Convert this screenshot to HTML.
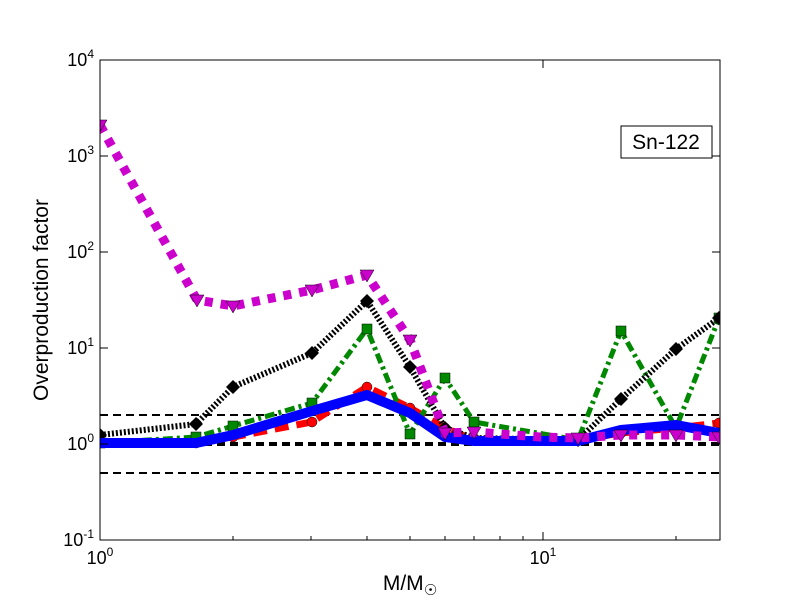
<!DOCTYPE html>
<html><head><meta charset="utf-8"><style>body{margin:0;background:#fff}svg{display:block}</style></head><body>
<svg width="800" height="600" xmlns="http://www.w3.org/2000/svg" font-family="Liberation Sans, DejaVu Sans, sans-serif">
<rect width="800" height="600" fill="#fff"/>
<defs><clipPath id="c"><rect x="100" y="60" width="620" height="480"/></clipPath></defs>
<g clip-path="url(#c)">
<line x1="100" y1="415" x2="720" y2="415" stroke="#000" stroke-width="2" stroke-dasharray="8,5"/>
<line x1="100" y1="444" x2="720" y2="444" stroke="#000" stroke-width="4" stroke-dasharray="8,5"/>
<line x1="100" y1="473" x2="720" y2="473" stroke="#000" stroke-width="2" stroke-dasharray="8,5"/>
<polyline fill="none" stroke="#f00" stroke-width="7" stroke-dasharray="14,8" points="100,443 196,443 233,437 312,422 367,387 410,408 445,428 474,440 578,440 621,433 676,428 719,423"/>
<g fill="#f00" stroke="#000" stroke-width="0.5"><circle cx="100" cy="443" r="5"/><circle cx="196" cy="443" r="5"/><circle cx="233" cy="437" r="5"/><circle cx="312" cy="422" r="5"/><circle cx="367" cy="387" r="5"/><circle cx="410" cy="408" r="5"/><circle cx="445" cy="428" r="5"/><circle cx="474" cy="440" r="5"/><circle cx="578" cy="440" r="5"/><circle cx="621" cy="433" r="5"/><circle cx="676" cy="428" r="5"/><circle cx="719" cy="423" r="5"/></g>
<polyline fill="none" stroke="#080" stroke-width="5" stroke-dasharray="10,4,3,4" points="100,443 196,437 233,426 312,403 367,329 410,434 445,378 474,422 578,440 621,331 676,428 719,318"/>
<g fill="#080" stroke="#000" stroke-width="0.5"><rect x="95" y="438" width="10" height="10"/><rect x="191" y="432" width="10" height="10"/><rect x="228" y="421" width="10" height="10"/><rect x="307" y="398" width="10" height="10"/><rect x="362" y="324" width="10" height="10"/><rect x="405" y="429" width="10" height="10"/><rect x="440" y="373" width="10" height="10"/><rect x="469" y="417" width="10" height="10"/><rect x="573" y="435" width="10" height="10"/><rect x="616" y="326" width="10" height="10"/><rect x="671" y="423" width="10" height="10"/><rect x="714" y="313" width="10" height="10"/></g>
<polyline fill="none" stroke="#000" stroke-width="6" stroke-dasharray="2,2" points="100,435 196,424 233,387 312,353 367,301 410,367 445,428 474,438 578,440 621,399 676,349 719,318"/>
<g fill="#000"><path d="M100,428l7,7-7,7-7-7z"/><path d="M196,417l7,7-7,7-7-7z"/><path d="M233,380l7,7-7,7-7-7z"/><path d="M312,346l7,7-7,7-7-7z"/><path d="M367,294l7,7-7,7-7-7z"/><path d="M410,360l7,7-7,7-7-7z"/><path d="M445,421l7,7-7,7-7-7z"/><path d="M474,431l7,7-7,7-7-7z"/><path d="M578,433l7,7-7,7-7-7z"/><path d="M621,392l7,7-7,7-7-7z"/><path d="M676,342l7,7-7,7-7-7z"/><path d="M719,311l7,7-7,7-7-7z"/></g>
<polyline fill="none" stroke="#00f" stroke-width="10" points="100,443 196,443 233,435 312,411 367,395 410,413 445,437 474,441 578,441 621,430 676,425 719,433"/>
<polyline fill="none" stroke="#c0c" stroke-width="9" stroke-dasharray="8,8" points="100,125 197,300 233,306 312,290 367,275 410,340 445,433 474,432 540,437 578,438 621,435 676,435 719,437"/>
<g fill="#c0c" stroke="#000" stroke-width="0.5"><path d="M93,120h14l-7,12z"/><path d="M190,295h14l-7,12z"/><path d="M226,301h14l-7,12z"/><path d="M305,285h14l-7,12z"/><path d="M360,270h14l-7,12z"/><path d="M403,335h14l-7,12z"/><path d="M438,428h14l-7,12z"/><path d="M467,427h14l-7,12z"/><path d="M571,433h14l-7,12z"/><path d="M614,430h14l-7,12z"/><path d="M669,430h14l-7,12z"/><path d="M712,432h14l-7,12z"/></g>
</g>
<rect x="100" y="60" width="620" height="480" fill="none" stroke="#000" stroke-width="1"/>
<g stroke="#000">
<line x1="100" y1="540" x2="100" y2="532"/><line x1="543" y1="540" x2="543" y2="532"/><line x1="100" y1="60" x2="100" y2="68"/><line x1="543" y1="60" x2="543" y2="68"/>
<line x1="233" y1="540" x2="233" y2="536"/><line x1="311" y1="540" x2="311" y2="536"/><line x1="367" y1="540" x2="367" y2="536"/><line x1="410" y1="540" x2="410" y2="536"/><line x1="445" y1="540" x2="445" y2="536"/><line x1="474" y1="540" x2="474" y2="536"/><line x1="500" y1="540" x2="500" y2="536"/><line x1="523" y1="540" x2="523" y2="536"/><line x1="676" y1="540" x2="676" y2="536"/>
<line x1="100" y1="444" x2="108" y2="444"/><line x1="100" y1="348" x2="108" y2="348"/><line x1="100" y1="252" x2="108" y2="252"/><line x1="100" y1="156" x2="108" y2="156"/>
<line x1="720" y1="444" x2="712" y2="444"/><line x1="720" y1="348" x2="712" y2="348"/><line x1="720" y1="252" x2="712" y2="252"/><line x1="720" y1="156" x2="712" y2="156"/>
</g>
<g font-size="18" fill="#000">
<text x="100" y="564" text-anchor="middle">10<tspan font-size="12" dy="-8">0</tspan></text>
<text x="543" y="564" text-anchor="middle">10<tspan font-size="12" dy="-8">1</tspan></text>
<text x="94" y="546" text-anchor="end">10<tspan font-size="12" dy="-8">-1</tspan></text>
<text x="94" y="450" text-anchor="end">10<tspan font-size="12" dy="-8">0</tspan></text>
<text x="94" y="354" text-anchor="end">10<tspan font-size="12" dy="-8">1</tspan></text>
<text x="94" y="258" text-anchor="end">10<tspan font-size="12" dy="-8">2</tspan></text>
<text x="94" y="162" text-anchor="end">10<tspan font-size="12" dy="-8">3</tspan></text>
<text x="94" y="66" text-anchor="end">10<tspan font-size="12" dy="-8">4</tspan></text>
</g>
<text x="410" y="590" font-size="21" text-anchor="middle">M/M<tspan font-size="15" dy="5">☉</tspan></text>
<text x="48" y="300" font-size="21" text-anchor="middle" transform="rotate(-90 48 300)">Overproduction factor</text>
<rect x="621" y="126" width="91" height="32" fill="#fff" stroke="#000"/>
<text x="666" y="149" font-size="21" text-anchor="middle">Sn-122</text>
</svg>
</body></html>
